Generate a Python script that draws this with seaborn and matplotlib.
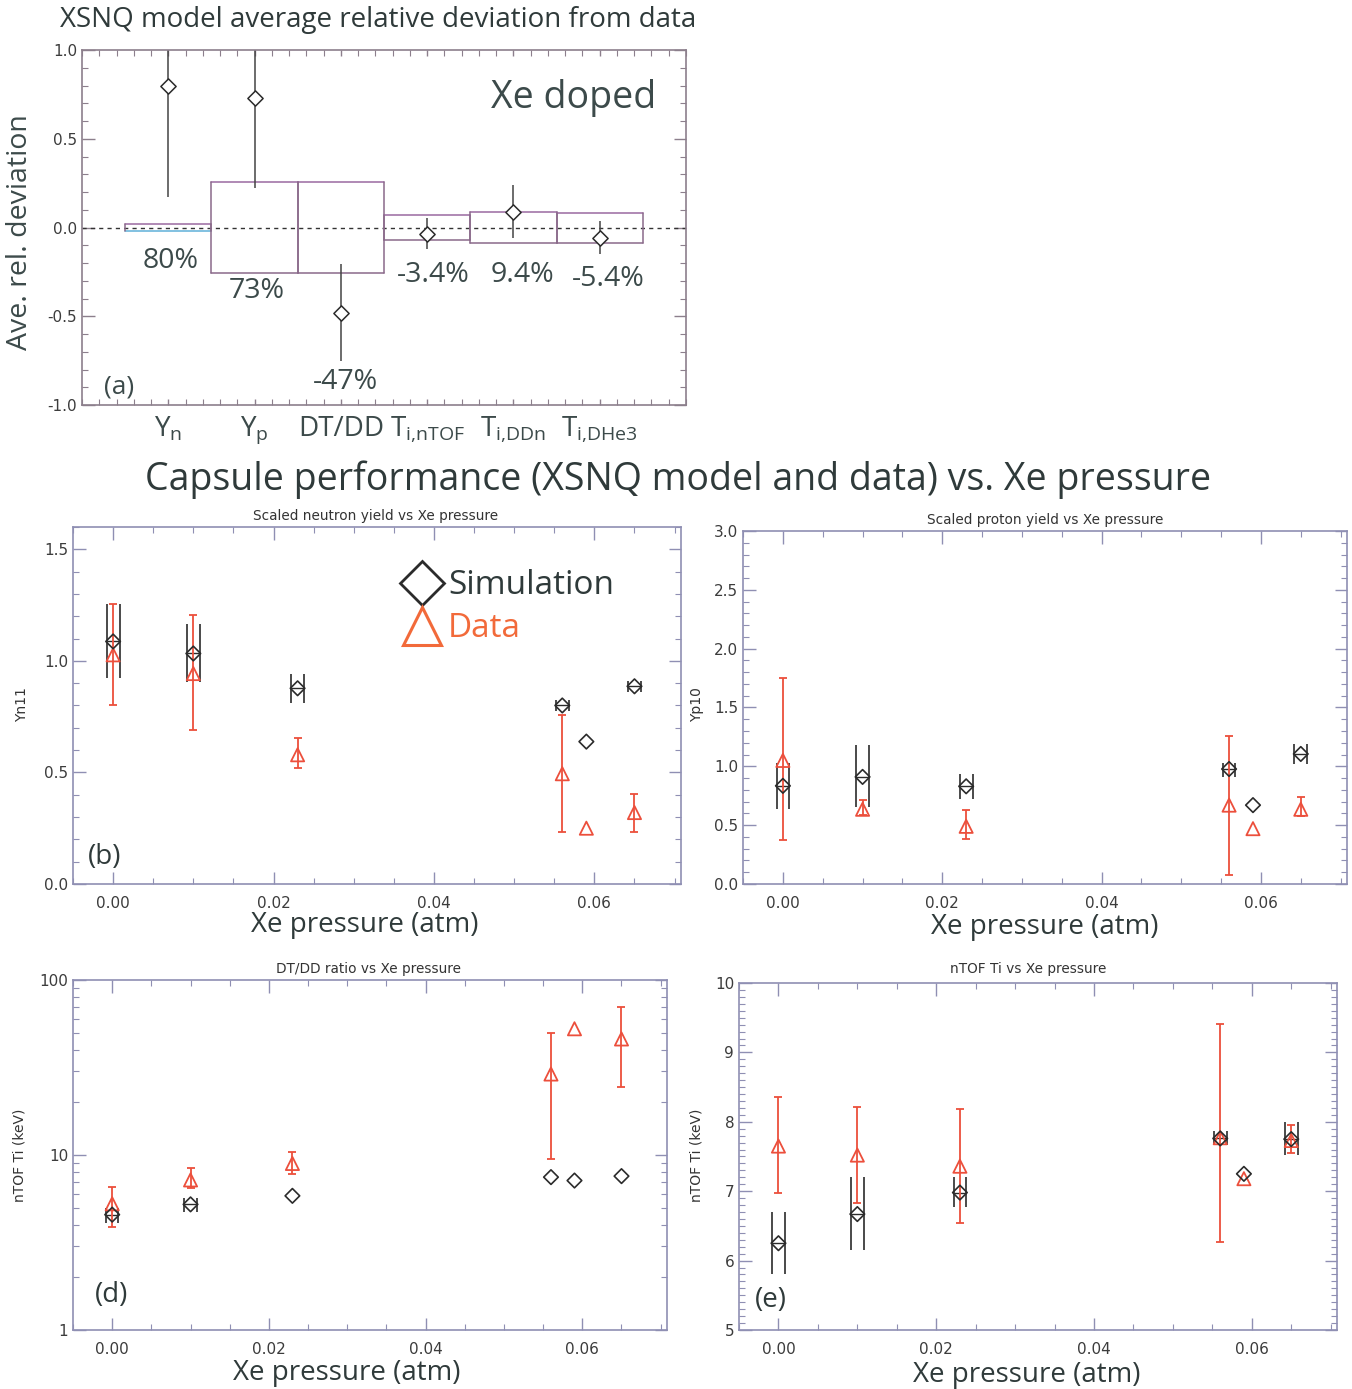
import numpy as np
import pandas as pd
import matplotlib
matplotlib.use("Agg")
import matplotlib.pyplot as plt
import seaborn as sns
from matplotlib.lines import Line2D
from matplotlib.ticker import MultipleLocator, LogLocator, NullFormatter, FixedLocator, FixedFormatter

# ---------------- data ----------------
# panel (a): average relative deviation
quantities = [r"$\mathregular{Y_n}$", r"$\mathregular{Y_p}$", "DT/DD",
              r"$\mathregular{T_{i{,}nTOF}}$", r"$\mathregular{T_{i{,}DDn}}$", r"$\mathregular{T_{i{,}DHe3}}$"]
dev_mean = [0.80, 0.73, -0.48, -0.038, 0.089, -0.059]
dev_low = [0.174, 0.221, -0.752, -0.123, -0.057, -0.151]
dev_high = [1.43, 1.24, -0.208, 0.053, 0.240, 0.038]
box_low = [-0.017, -0.258, -0.258, -0.072, -0.090, -0.085]
box_high = [0.018, 0.258, 0.258, 0.068, 0.085, 0.082]
pct_labels = ["80%", "73%", "-47%", "-3.4%", "9.4%", "-5.4%"]

# panels (b)-(e): vs Xe pressure
pressure = [0.0, 0.01, 0.023, 0.056, 0.059, 0.065]
nan = np.nan

yn_sim = [1.087, 1.033, 0.877, 0.800, 0.638, 0.886]
yn_sim_lo = [0.921, 0.904, 0.811, 0.774, nan, 0.860]
yn_sim_hi = [1.256, 1.166, 0.942, 0.826, nan, 0.910]
yn_dat = [1.027, 0.943, 0.579, 0.494, 0.250, 0.320]
yn_dat_lo = [0.804, 0.689, 0.518, 0.235, nan, 0.235]
yn_dat_hi = [1.256, 1.205, 0.653, 0.756, nan, 0.405]

yp_sim = [0.834, 0.91, 0.83, 0.977, 0.67, 1.105]
yp_sim_lo = [0.635, 0.65, 0.72, 0.905, nan, 1.02]
yp_sim_hi = [1.03, 1.18, 0.935, 1.03, nan, 1.19]
yp_dat = [1.05, 0.635, 0.49, 0.67, 0.47, 0.635]
yp_dat_lo = [0.37, 0.59, 0.385, 0.08, nan, 0.58]
yp_dat_hi = [1.75, 0.715, 0.625, 1.26, nan, 0.735]

dtdd_sim = [4.56, 5.22, 5.84, 7.47, 7.14, 7.57]
dtdd_sim_lo = [4.07, 4.70, nan, nan, nan, nan]
dtdd_sim_hi = [4.99, 5.70, nan, nan, nan, nan]
dtdd_dat = [5.26, 7.2, 8.94, 29.0, 52.6, 46.0]
dtdd_dat_lo = [3.88, 6.44, 7.81, 9.44, nan, 24.5]
dtdd_dat_hi = [6.53, 8.47, 10.4, 50.0, nan, 69.8]

ti_sim = [6.25, 6.67, 6.98, 7.76, 7.25, 7.75]
ti_sim_lo = [5.80, 6.15, 6.77, 7.66, nan, 7.52]
ti_sim_hi = [6.70, 7.20, 7.20, 7.86, nan, 7.99]
ti_dat = [7.65, 7.52, 7.36, 7.77, 7.18, 7.73]
ti_dat_lo = [6.97, 6.83, 6.54, 6.27, nan, 7.55]
ti_dat_hi = [8.35, 8.21, 8.19, 9.41, nan, 7.96]

# ---------------- style ----------------
sns.set_theme(style="ticks")
BIG = ["Open Sans", "DejaVu Sans"]
plt.rcParams["font.family"] = ["DejaVu Sans"]
plt.rcParams["mathtext.fontset"] = "custom"

SIM = "#2b2b2b"
DAT = "#ec4f3c"
SPINE = "#8f8fb3"
TICKC = "#3c3c3c"

fig = plt.figure(figsize=(13.52, 13.89), dpi=100)

def px(x, y):
    return x / 1352.0, 1 - y / 1389.0

def style_axes(ax, spine=SPINE):
    for s in ax.spines.values():
        s.set_color(spine)
        s.set_linewidth(1.2)
    ax.tick_params(which="both", direction="in", top=True, right=True, colors=spine,
                   labelcolor=TICKC, labelsize=11)
    ax.tick_params(which="major", length=9, width=1)
    ax.tick_params(which="minor", length=4, width=0.8)
    ax.grid(False)

# ---------------- panel (a) ----------------
axA = fig.add_axes([0.0607, 0.7084, 0.4467, 0.2556])
cats = np.arange(1, len(quantities) + 1)
dfa = pd.DataFrame({"cat": cats, "mean": dev_mean, "lo": dev_low, "hi": dev_high,
                    "blo": box_low, "bhi": box_high})
for i, r in dfa.iterrows():
    ec_top = "#9a6aa0"
    ec_bot = "#5fb0d8" if i == 0 else "#8a6a8a"
    axA.plot([r["cat"] - 0.5, r["cat"] + 0.5], [r["bhi"], r["bhi"]], color=ec_top, lw=1.1)
    axA.plot([r["cat"] - 0.5, r["cat"] + 0.5], [r["blo"], r["blo"]], color=ec_bot, lw=1.1)
    axA.plot([r["cat"] - 0.5, r["cat"] - 0.5], [r["blo"], r["bhi"]], color="#8a6a8a", lw=1.1)
    axA.plot([r["cat"] + 0.5, r["cat"] + 0.5], [r["blo"], r["bhi"]], color="#8a6a8a", lw=1.1)
axA.vlines(dfa["cat"], dfa["lo"], dfa["hi"], color="#444444", lw=1.1, zorder=2)
axA.axhline(0, color="#333333", lw=1.0, ls=(0, (3, 3)), zorder=1)
sns.scatterplot(data=dfa, x="cat", y="mean", ax=axA, marker="D", s=60, facecolor="white",
                edgecolor=SIM, linewidth=1.1, zorder=4, legend=False)
label_y = [-0.19, -0.36, -0.87, -0.27, -0.27, -0.29]
label_dx = [0.03, 0.03, 0.05, 0.07, 0.1, 0.1]
for c, t, yy, dx in zip(cats, pct_labels, label_y, label_dx):
    axA.text(c + dx, yy, t, ha="center", va="center", fontsize=20.5, family=BIG, color="#3c4a4a")
axA.text(6.65, 0.73, "Xe doped", ha="right", va="center", fontsize=27, family=BIG, color="#3c4a4a")
axA.text(0.25, -0.9, "(a)", ha="left", va="center", fontsize=19, family=BIG, color="#3c4a4a")
axA.set_xlim(0, 7)
axA.set_ylim(-1.0, 1.0)
axA.set_xlabel("")
axA.set_ylabel("")
style_axes(axA, spine="#8c7f8c")
axA.xaxis.set_major_locator(FixedLocator(cats))
axA.xaxis.set_major_formatter(FixedFormatter(quantities))
axA.xaxis.set_minor_locator(MultipleLocator(0.2))
axA.tick_params(axis="x", which="major", length=4, labelsize=20, pad=7)
axA.yaxis.set_major_locator(MultipleLocator(0.5))
axA.yaxis.set_minor_locator(MultipleLocator(0.1))
axA.yaxis.set_major_formatter(matplotlib.ticker.FormatStrFormatter("%.1f"))
for lab in axA.get_xticklabels():
    lab.set_family(BIG)
    lab.set_color("#3c4a4a")
fig.text(*px(60, 20), "XSNQ model average relative deviation from data", ha="left", va="center",
         fontsize=20, family=BIG, color="#2f3a3a")
fig.text(*px(20, 232), "Ave. rel. deviation", ha="center", va="center", rotation=90,
         fontsize=20.5, family=BIG, color="#3c4a4a")

fig.text(*px(678, 480), "Capsule performance (XSNQ model and data) vs. Xe pressure",
         ha="center", va="center", fontsize=27, family=BIG, color="#2f3a3a")

# ---------------- panels (b)-(e) ----------------
DX = 0.0008

def xe_panel(rect, sim, slo, shi, dat, dlo, dhi, title, ylab, ylab_xy, title_xy, xlab_xy,
             ylim, log=False, major=None, minor=None, tag=None, tag_xy=None):
    ax = fig.add_axes(rect)
    df = pd.DataFrame({"p": pressure, "sim": sim, "slo": slo, "shi": shi,
                       "dat": dat, "dlo": dlo, "dhi": dhi})
    e = df.dropna(subset=["slo"])
    ax.vlines(e["p"] - DX, e["slo"], e["shi"], color=SIM, lw=1.2, zorder=2)
    ax.vlines(e["p"] + DX, e["slo"], e["shi"], color=SIM, lw=1.2, zorder=2)
    ax.hlines(e["sim"], e["p"] - DX, e["p"] + DX, color=SIM, lw=1.0, zorder=2)
    d = df.dropna(subset=["dlo"])
    ax.errorbar(d["p"], d["dat"], yerr=[d["dat"] - d["dlo"], d["dhi"] - d["dat"]], fmt="none",
                ecolor=DAT, elinewidth=1.3, capsize=3, capthick=1.3, zorder=3)
    sns.scatterplot(data=df, x="p", y="sim", ax=ax, marker="D", s=55, facecolor="none",
                    edgecolor=SIM, linewidth=1.2, zorder=5, legend=False)
    sns.scatterplot(data=df, x="p", y="dat", ax=ax, marker="^", s=90, facecolor="none",
                    edgecolor=DAT, linewidth=1.3, zorder=4, legend=False)
    ax.set_xlim(-0.005, 0.0708)
    if log:
        ax.set_yscale("log")
        ax.yaxis.set_major_locator(FixedLocator([1, 10, 100]))
        ax.yaxis.set_major_formatter(FixedFormatter(["1", "10", "100"]))
        ax.yaxis.set_minor_locator(LogLocator(base=10, subs=np.arange(2, 10)))
        ax.yaxis.set_minor_formatter(NullFormatter())
    else:
        ax.yaxis.set_major_locator(MultipleLocator(major))
        ax.yaxis.set_minor_locator(MultipleLocator(minor))
        ax.yaxis.set_major_formatter(matplotlib.ticker.FormatStrFormatter("%.1f" if major < 1 else "%d"))
    ax.set_ylim(*ylim)
    ax.set_xlabel("")
    ax.set_ylabel("")
    style_axes(ax)
    ax.xaxis.set_major_locator(MultipleLocator(0.02))
    ax.xaxis.set_minor_locator(MultipleLocator(0.005))
    ax.xaxis.set_major_formatter(matplotlib.ticker.FormatStrFormatter("%.2f"))
    ax.tick_params(axis="x", pad=9)
    fig.text(*px(*title_xy), title, ha="center", va="center", fontsize=9.8, color="#333333")
    fig.text(*px(*ylab_xy), ylab, ha="center", va="center", rotation=90, fontsize=10, color="#333333")
    fig.text(*px(*xlab_xy), "Xe pressure (atm)", ha="center", va="center", fontsize=20,
             family=BIG, color="#2f3a3a")
    if tag:
        ax.text(*tag_xy, tag, transform=ax.transAxes, ha="left", va="center", fontsize=20,
                family=BIG, color="#2f3a3a")
    return ax

axB = xe_panel([0.054, 0.3636, 0.4497, 0.257], yn_sim, yn_sim_lo, yn_sim_hi, yn_dat, yn_dat_lo, yn_dat_hi,
               "Scaled neutron yield vs Xe pressure", "Yn11", (22, 705), (376, 516), (365, 925),
               (0, 1.6), major=0.5, minor=0.1, tag="(b)", tag_xy=(0.025, 0.076))
axC = xe_panel([0.5496, 0.3636, 0.4467, 0.2541], yp_sim, yp_sim_lo, yp_sim_hi, yp_dat, yp_dat_lo, yp_dat_hi,
               "Scaled proton yield vs Xe pressure", "Yp10", (697, 705), (1045, 520), (1045, 927),
               (0, 3.0), major=0.5, minor=0.1)
axD = xe_panel([0.054, 0.0425, 0.4393, 0.252], dtdd_sim, dtdd_sim_lo, dtdd_sim_hi, dtdd_dat, dtdd_dat_lo, dtdd_dat_hi,
               "DT/DD ratio vs Xe pressure", "nTOF Ti (keV)", (20, 1155), (368, 969), (347, 1373),
               (1, 100), log=True, tag="(d)", tag_xy=(0.037, 0.1))
axE = xe_panel([0.5466, 0.0425, 0.4423, 0.2498], ti_sim, ti_sim_lo, ti_sim_hi, ti_dat, ti_dat_lo, ti_dat_hi,
               "nTOF Ti vs Xe pressure", "nTOF Ti (keV)", (697, 1155), (1028, 969), (1027, 1375),
               (5, 10), major=1, minor=0.1, tag="(e)", tag_xy=(0.027, 0.086))

handles = [Line2D([], [], marker="D", ls="none", markersize=22, markerfacecolor="none",
                  markeredgecolor=SIM, markeredgewidth=2),
           Line2D([], [], marker="^", ls="none", markersize=28, markerfacecolor="none",
                  markeredgecolor="#f26a3a", markeredgewidth=2.2)]
leg = axB.legend(handles, ["Simulation", "Data"], loc="upper left", bbox_to_anchor=(0.48, 0.965),
                 frameon=False, handletextpad=0.0, labelspacing=0.3, handlelength=1.6,
                 prop={"family": BIG, "size": 24}, labelcolor=["#2f3a3a", "#f26a3a"])

fig.savefig("out.png", dpi=100)
